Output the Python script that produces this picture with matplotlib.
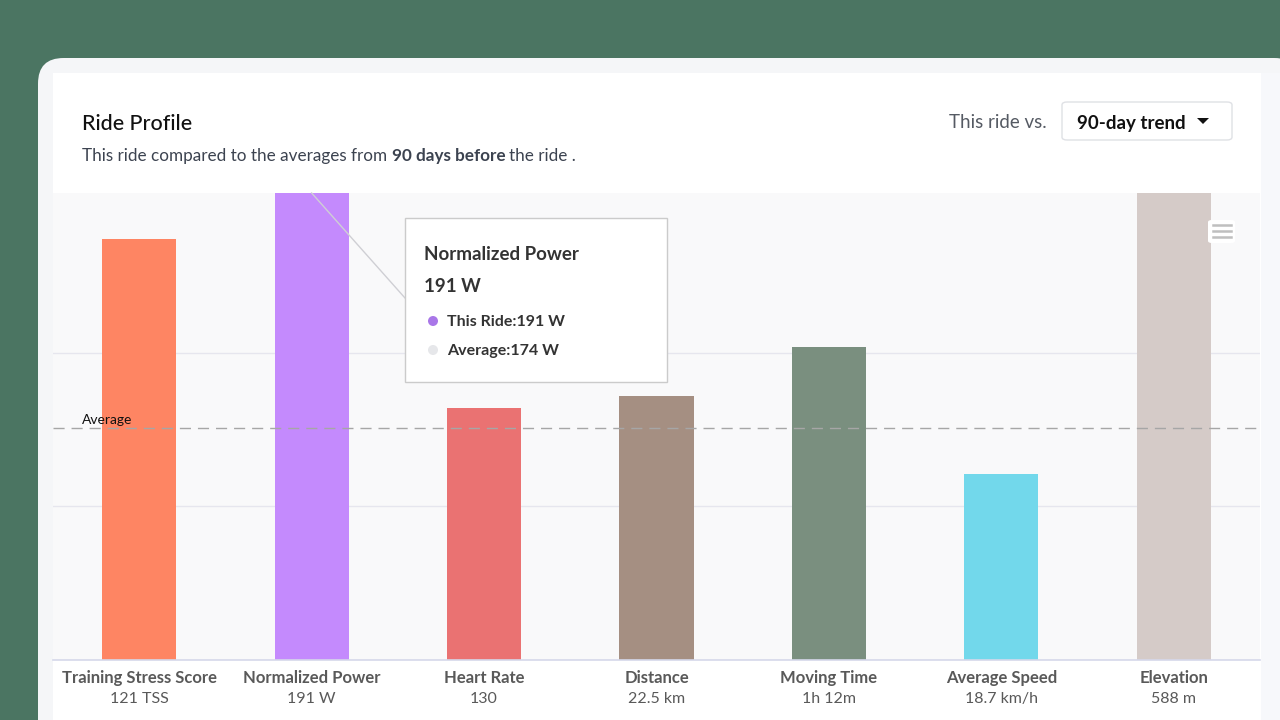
import matplotlib
matplotlib.use("Agg")
import matplotlib.pyplot as plt
from matplotlib.patches import FancyBboxPatch, Rectangle, Ellipse
from matplotlib.lines import Line2D

plt.rcParams['font.family'] = ['Lato', 'DejaVu Sans']

# data (bar heights on the chart's relative scale, average = 1.51)
categories = ["Training Stress Score", "Normalized Power", "Heart Rate", "Distance",
              "Moving Time", "Average Speed", "Elevation"]
value_labels = ["121 TSS", "191 W", "130", "22.5 km", "1h 12m", "18.7 km/h", "588 m"]
relative = [2.74, 3.6, 1.64, 1.72, 2.04, 1.21, 3.5]
bar_colors = ["#fe8563", "#c48afd", "#ea7272", "#a58f82", "#7a8f7f", "#72d8eb", "#d5cbc8"]
average_level = 1.51
y_max = 3.04

W, H = 1280, 720
fig = plt.figure(figsize=(12.8, 7.2), dpi=100)
fig.patch.set_facecolor("#4b7562")


def px(x, y):
    """top-left pixel coords -> figure fraction"""
    return x / W, 1 - y / H


def frect(x0, y0, x1, y1, **kw):
    fx, fy = px(x0, y1)
    return Rectangle((fx, fy), (x1 - x0) / W, (y1 - y0) / H, transform=fig.transFigure, **kw)


# card background
card = FancyBboxPatch(px(38, 760), (1300 - 38) / W, (760 - 58) / H,
                      boxstyle="round,pad=0,rounding_size=0.02",
                      transform=fig.transFigure, facecolor="#f5f6f8", edgecolor="none",
                      mutation_aspect=W / H)
fig.patches.append(card)
fig.patches.append(frect(53, 73, 1261, 720, facecolor="white", edgecolor="none"))
fig.patches.append(frect(1261, 73, 1280, 720, facecolor="#f7f8fb", edgecolor="none"))

# header text
fig.text(82 / W, 1 - 130 / H, "Ride Profile", fontsize=15.5, color="#111111", va="baseline",
         fontweight="medium")
base = 1 - 161 / H
t = fig.text(82 / W, base, "This ride compared to the averages from ", fontsize=12.3,
             color="#3c4350", va="baseline")
fig.canvas.draw()
r = fig.canvas.get_renderer()
bb = t.get_window_extent(r)
t2 = fig.text(bb.x1 / W, base, "90 days before", fontsize=12.3, color="#3c4350",
              fontweight="bold", va="baseline")
bb2 = t2.get_window_extent(r)
fig.text(bb2.x1 / W + 4 / W, base, "the ride .", fontsize=12.3, color="#3c4350", va="baseline")

fig.text(*px(1047, 123), "This ride vs.", fontsize=13.5, color="#555a63", va="center", ha="right")
dd = FancyBboxPatch(px(1062, 140), 170 / W, 38 / H, boxstyle="round,pad=0,rounding_size=0.004",
                    transform=fig.transFigure, facecolor="white", edgecolor="#dfe1e5", lw=1)
fig.patches.append(dd)
fig.text(*px(1077, 123), "90-day trend", fontsize=13.5, color="#111111", va="center",
         fontweight="bold")
tri_x, tri_y = 1203, 121
fig.patches.append(plt.Polygon([px(tri_x - 6, tri_y - 3), px(tri_x + 6, tri_y - 3), px(tri_x, tri_y + 3)],
                               closed=True, transform=fig.transFigure, facecolor="#111111",
                               edgecolor="none"))

# chart
ax = fig.add_axes([53 / W, (H - 660) / H, 1207 / W, 467 / H])
ax.set_zorder(2)
ax.set_facecolor("#f9f9fa")
x = list(range(len(categories)))
ax.bar(x, relative, width=0.43, color=bar_colors, zorder=3)
ax.set_xlim(-0.5, len(categories) - 0.5)
ax.set_ylim(0, y_max)
ax.set_yticks([1, 2])
ax.yaxis.grid(True, color="#e6e6ee", lw=1, zorder=0)
ax.set_axisbelow(True)
ax.tick_params(left=False, bottom=False, labelleft=False, labelbottom=False)
for s in ["left", "right", "top"]:
    ax.spines[s].set_visible(False)
ax.spines["bottom"].set_color("#d5d8ea")
ax.spines["bottom"].set_linewidth(1.2)
ax.spines["bottom"].set_zorder(4)

ax.axhline(average_level, color="#a6a6a6", lw=1, ls=(0, (8, 5)), zorder=4)
ax.text(-0.33, average_level + 0.01, "Average", fontsize=10, color="#111111", va="bottom", zorder=5)

for i, (name, val) in enumerate(zip(categories, value_labels)):
    ax.text(i, -18 / 153.5, name, ha="center", va="center", fontsize=12, color="#595959",
            fontweight="bold", clip_on=False)
    ax.text(i, -39 / 153.5, val, ha="center", va="center", fontsize=11.5, color="#595959",
            clip_on=False)

# hamburger menu
fig.patches.append(FancyBboxPatch(px(1208, 243), 27 / W, 23 / H, boxstyle="round,pad=0,rounding_size=0.003",
                                  transform=fig.transFigure, facecolor="white", edgecolor="none",
                                  zorder=6))
for yy in (225, 231, 237):
    fig.lines.append(Line2D([1213 / W, 1231 / W], [1 - yy / H] * 2, transform=fig.transFigure,
                            color="#bfbfbf", lw=1.8, zorder=7))

# tooltip connector
bx, by = ax.transData.transform((1, y_max))
fig.lines.append(Line2D([bx / W, 405 / W], [by / H, 1 - 298 / H], transform=fig.transFigure,
                        color="#cfcfd4", lw=1, zorder=6))

# tooltip
fig.patches.append(frect(405, 218, 667, 382, facecolor="white", edgecolor="#cbcbcb", lw=1, zorder=8))
fig.text(*px(424, 254), categories[1], fontsize=13.5, fontweight="bold", color="#333333",
         va="center", zorder=9)
fig.text(*px(424, 287), value_labels[1], fontsize=13.5, fontweight="bold", color="#333333",
         va="center", zorder=9)
fig.patches.append(Ellipse(px(433, 321), 10 / W, 10 / H, transform=fig.transFigure,
                           facecolor="#a977e8", edgecolor="none", zorder=9))
fig.patches.append(Ellipse(px(433, 350), 10 / W, 10 / H, transform=fig.transFigure,
                           facecolor="#e6e7ea", edgecolor="none", zorder=9))
fig.text(*px(447, 322), "This Ride:191 W", fontsize=11.5, fontweight="bold", color="#333333",
         va="center", zorder=9)
fig.text(*px(447, 351), "Average:174 W", fontsize=11.5, fontweight="bold", color="#333333",
         va="center", zorder=9)

fig.savefig("out.png", dpi=100, facecolor=fig.get_facecolor())
